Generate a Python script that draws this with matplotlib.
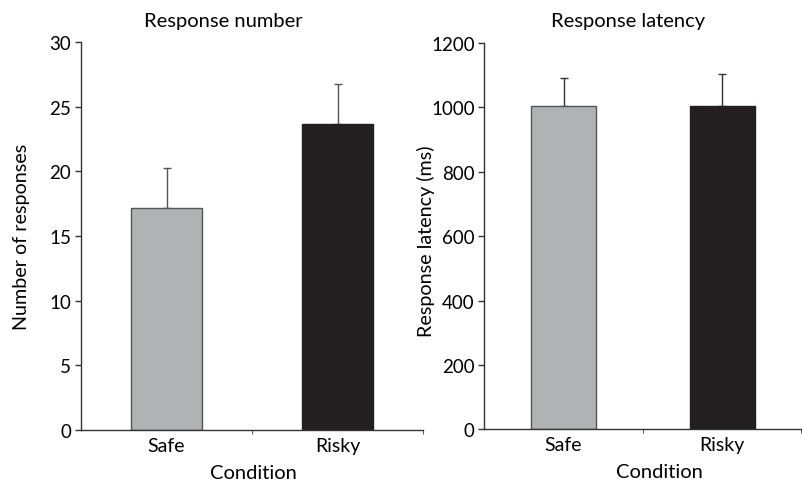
import matplotlib
matplotlib.use("Agg")
import matplotlib.pyplot as plt

# data
conditions = ["Safe", "Risky"]
resp_number = [17.2, 23.7]
resp_number_err = [3.1, 3.1]
resp_latency = [1004, 1004]
resp_latency_err = [88, 101]

bar_colors = ["#b1b2b4", "#231f20"]
edge_colors = ["#555555", "#231f20"]

plt.rcParams['font.family'] = ['Lato', 'DejaVu Sans']

fig = plt.figure(figsize=(8.03, 4.85), dpi=100)
ax1 = fig.add_axes([0.1009, 0.1120, 0.4259, 0.7987])
ax2 = fig.add_axes([0.6031, 0.1128, 0.3948, 0.7965])


def style_axis(ax, xmax):
    for s in ["top", "right"]:
        ax.spines[s].set_visible(False)
    for s in ["left", "bottom"]:
        ax.spines[s].set_color("#333333")
        ax.spines[s].set_linewidth(1.0)
    ax.set_xlim(-0.5, xmax)
    ax.set_xticks([0, 1])
    ax.set_xticklabels(conditions, fontsize=14)
    ax.tick_params(axis="x", length=0, pad=5)
    ax.set_xticks([0.5, 1.5], minor=True)
    ax.tick_params(axis="x", which="minor", length=3, direction="out", color="#333333")
    ax.tick_params(axis="y", length=4, width=1, color="#333333", labelsize=13.5, pad=3)


x = range(len(conditions))

ax1.bar(x, resp_number, width=0.41, color=bar_colors, edgecolor=edge_colors, linewidth=1.0, zorder=2)
ax1.errorbar(x, resp_number, yerr=[[0, 0], resp_number_err], fmt="none",
             ecolor="#555555", elinewidth=1.0, capsize=3, capthick=1.0, zorder=1)
style_axis(ax1, 1.5)
ax1.set_ylim(0, 30)
ax1.set_yticks([0, 5, 10, 15, 20, 25, 30])
ax1.set_ylabel("Number of responses", fontsize=14.2)
ax1.yaxis.set_label_coords(-0.149, 0.5)
ax1.set_xlabel("Condition", fontsize=14.5)
ax1.xaxis.set_label_coords(0.503, -0.088)

ax2.bar(x, resp_latency, width=0.41, color=bar_colors, edgecolor=edge_colors, linewidth=1.0, zorder=2)
ax2.errorbar(x, resp_latency, yerr=[[0, 0], resp_latency_err], fmt="none",
             ecolor="#333333", elinewidth=1.0, capsize=3, capthick=1.0, zorder=1)
style_axis(ax2, 1.45)
ax2.set_ylim(0, 1200)
ax2.set_yticks([0, 200, 400, 600, 800, 1000, 1200])
ax2.set_ylabel("Response latency (ms)", fontsize=14.2)
ax2.yaxis.set_label_coords(-0.155, 0.49)
ax2.set_xlabel("Condition", fontsize=14.5)
ax2.xaxis.set_label_coords(0.552, -0.088)

fig.text(223 / 803, 1 - 22 / 485, "Response number", ha="center", va="center", fontsize=14.5)
fig.text(628 / 803, 1 - 22 / 485, "Response latency", ha="center", va="center", fontsize=14.5)

fig.savefig("out.png", dpi=100)
